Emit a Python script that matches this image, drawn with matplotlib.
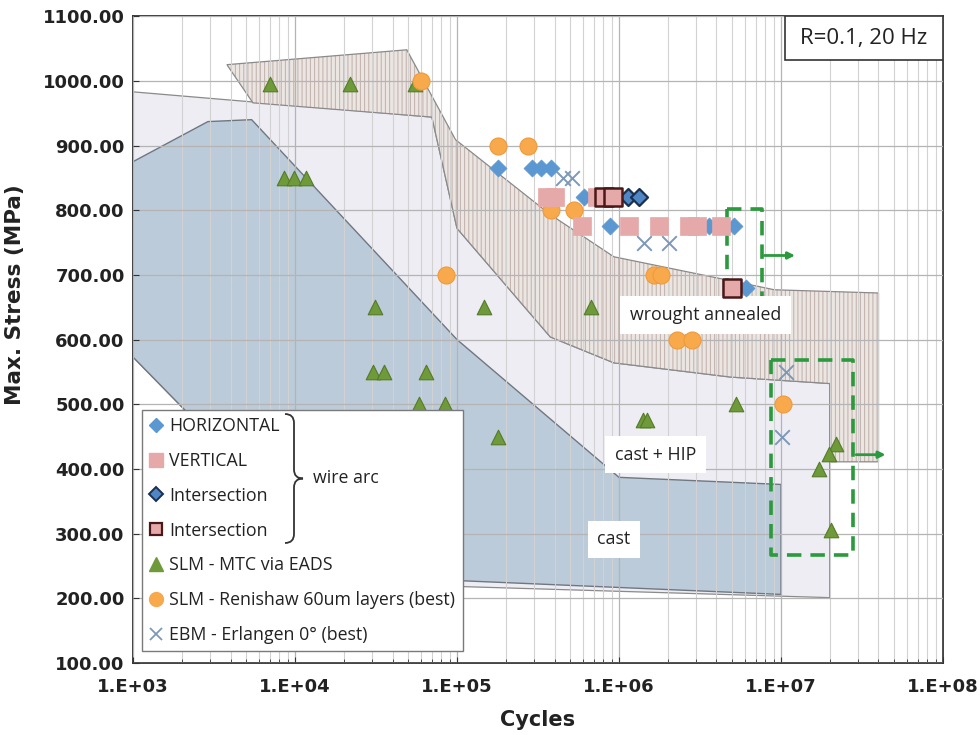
import matplotlib
matplotlib.use("Agg")
import matplotlib.pyplot as plt
from matplotlib.lines import Line2D
from matplotlib.path import Path
from matplotlib.patches import PathPatch, Rectangle

plt.rcParams['hatch.linewidth'] = 0.8

# shaded material bands (cycles, MPa)
cast_x = [1e3, 2.9e3, 5.4e3, 1e5, 1e6, 1e7, 1e7, 1.1e5, 2e4, 2e3, 1e3]
cast_y = [875, 937, 940, 600, 387, 376, 206, 227, 240, 496, 573]

hip_x = [1e3, 7e4, 1e5, 3.77e5, 9.3e5, 4.9e6, 2e7, 2e7, 1.1e5, 2e4, 2e3, 1e3]
hip_y = [983, 944, 772, 604, 564, 542, 532, 201, 218, 235, 496, 573]

wrought_x = [3.8e3, 4.9e4, 9.8e4, 3.78e5, 9.3e5, 4.9e6, 9.1e6, 4e7, 4e7, 2e7, 2e7,
             4.9e6, 9.3e5, 3.77e5, 1e5, 7e4, 5.5e3]
wrought_y = [1025, 1048, 909, 793, 728, 691, 677, 672, 411, 411, 532,
             542, 564, 604, 772, 944, 966]

# wire arc data
horiz_x = [1.8e5, 2.9e5, 3.3e5, 3.8e5, 6.1e5, 8.8e5, 3.6e6, 5.1e6, 6.1e6]
horiz_y = [865, 865, 865, 865, 820, 775, 775, 775, 680]

vert_x = [3.6e5, 4.0e5, 5.9e5, 7.3e5, 1.15e6, 1.77e6, 2.7e6, 3.05e6, 4.25e6]
vert_y = [820, 820, 775, 820, 775, 775, 775, 775, 775]

inter_d_x = [1.13e6, 1.32e6]
inter_d_y = [820, 820]

inter_s_x = [8.1e5, 9.2e5, 5.0e6]
inter_s_y = [820, 820, 680]

# other processes
slm_mtc_x = [7e3, 2.2e4, 5.5e4, 8.6e3, 9.8e3, 1.17e4, 3.1e4, 1.46e5, 6.7e5,
             3.03e4, 3.52e4, 6.4e4, 5.87e4, 8.4e4, 1.78e5, 1.4e6, 1.5e6,
             5.3e6, 2.2e7, 1.97e7, 1.71e7, 2.03e7]
slm_mtc_y = [995, 995, 995, 850, 850, 850, 650, 650, 650,
             550, 550, 550, 500, 500, 450, 475, 475,
             500, 438, 423, 400, 305]

renishaw_x = [6.0e4, 1.8e5, 2.75e5, 3.8e5, 5.3e5, 8.5e4, 1.64e6, 1.81e6, 2.29e6, 2.83e6, 1.03e7]
renishaw_y = [1000, 900, 900, 800, 800, 700, 700, 700, 600, 600, 500]

ebm_x = [4.5e5, 5.1e5, 1.43e6, 2.04e6, 1.07e7, 1.02e7]
ebm_y = [850, 850, 750, 750, 550, 450]

# run-out boxes
box1_x = [4.67e6, 7.6e6]
box1_y = [665, 802]
box2_x = [8.7e6, 2.8e7]
box2_y = [267, 569]

fig = plt.figure(figsize=(9.8, 7.35), dpi=100)
ax = fig.add_axes([0.1357, 0.098, 0.8265, 0.880])

ax.fill(hip_x, hip_y, facecolor='#ededf3', edgecolor='#8a8a8a', lw=0.9, zorder=1)
ax.fill(cast_x, cast_y, facecolor='#bccbd9', edgecolor='#6f7880', lw=1.0, zorder=1.2)
ax.fill(wrought_x, wrought_y, facecolor='#ece6e3', edgecolor='#c4b5b0', hatch='||||',
        lw=0, zorder=1.4)
ax.fill(wrought_x, wrought_y, facecolor='none', edgecolor='#8a8a8a', lw=0.9, zorder=1.5)

green = '#2a9a3c'
for bx, by, ay, ax_end in [(box1_x, box1_y, 730, 1.27e7), (box2_x, box2_y, 422, 4.6e7)]:
    ax.plot([bx[0], bx[1], bx[1], bx[0], bx[0]], [by[1], by[1], by[0], by[0], by[1]],
            ls=(0, (4, 2.5)), color=green, lw=2.6, zorder=4)
    ax.annotate('', xy=(ax_end, ay), xytext=(bx[1], ay),
                arrowprops=dict(arrowstyle='-|>', color=green, lw=2, mutation_scale=10),
                zorder=4)

ax.scatter(slm_mtc_x, slm_mtc_y, marker='^', s=110, color='#6f9a3a', edgecolor='#557a2a',
           lw=0.8, zorder=5)
ax.scatter(renishaw_x, renishaw_y, marker='o', s=150, color='#f8a94c', edgecolor='#f09a38',
           lw=0.8, zorder=5)
ax.scatter(horiz_x, horiz_y, marker='D', s=75, color='#5b97d1', edgecolor='#5b97d1',
           lw=0.5, zorder=5)
ax.scatter(vert_x, vert_y, marker='s', s=170, color='#e6a9a9', edgecolor='#e6a9a9',
           lw=0.5, zorder=5)
ax.scatter(inter_d_x, inter_d_y, marker='D', s=75, color='#4f86c6', edgecolor='#1b2f4f',
           lw=1.6, zorder=6)
ax.scatter(inter_s_x, inter_s_y, marker='s', s=150, color='#e6a9a9', edgecolor='#4a1818',
           lw=1.8, zorder=6)
ax.scatter(ebm_x, ebm_y, marker='x', s=110, color='#7d98b8', lw=1.4, zorder=6)

tfont = dict(family='Open Sans', fontsize=12.8, color='#222222')
box = dict(facecolor='white', edgecolor='none', pad=7)
ax.text(3.43e6, 638, 'wrought annealed', ha='center', va='center', bbox=box, zorder=4, **tfont)
ax.text(1.68e6, 422, 'cast + HIP', ha='center', va='center', bbox=box, zorder=4, **tfont)
ax.text(9.3e5, 291, 'cast', ha='center', va='center', bbox=box, zorder=4, **tfont)

# condition box in the upper right corner
ax.add_patch(Rectangle((0.805, 0.932), 0.195, 0.068, transform=ax.transAxes,
                       facecolor='white', edgecolor='#333333', lw=1.2, zorder=7))
ax.text(0.9025, 0.966, 'R=0.1, 20 Hz', transform=ax.transAxes, ha='center', va='center',
        zorder=8, family='Open Sans', fontsize=16, color='#222222')

ax.set_xscale('log')
ax.set_xlim(1e3, 1e8)
ax.set_ylim(100, 1100)
ax.set_xticks([1e3, 1e4, 1e5, 1e6, 1e7, 1e8])
ax.set_xticklabels(['1.E+03', '1.E+04', '1.E+05', '1.E+06', '1.E+07', '1.E+08'])
ax.set_yticks(range(100, 1101, 100))
ax.set_yticklabels(['%.2f' % v for v in range(100, 1101, 100)])
ax.set_axisbelow(False)
ax.grid(which='major', axis='both', color='#b4b4b4', lw=0.9)
ax.grid(which='minor', axis='x', color='#d2d2d2', lw=0.8)
ax.tick_params(which='both', direction='in', labelsize=13, colors='#333333', labelcolor='#222222')
ax.tick_params(which='major', length=4)
ax.tick_params(which='minor', length=3)
ax.tick_params(axis='x', which='major', pad=11)
ax.tick_params(axis='y', which='major', pad=6)
for lab in ax.get_xticklabels() + ax.get_yticklabels():
    lab.set_fontweight('bold')
for sp in ax.spines.values():
    sp.set_color('#333333')
    sp.set_linewidth(1.3)

ax.set_xlabel('Cycles', fontsize=15, fontweight='bold', color='#222222', labelpad=10)
ax.set_ylabel('Max. Stress (MPa)', fontsize=15.5, fontweight='bold', color='#222222')
ax.yaxis.set_label_coords(-0.133, 0.57)

handles = [
    Line2D([], [], ls='none', marker='D', ms=7, color='#5b97d1'),
    Line2D([], [], ls='none', marker='s', ms=10, color='#e6a9a9'),
    Line2D([], [], ls='none', marker='D', ms=7, markerfacecolor='#4f86c6',
           markeredgecolor='#1b2f4f', mew=1.4),
    Line2D([], [], ls='none', marker='s', ms=9, markerfacecolor='#e6a9a9',
           markeredgecolor='#4a1818', mew=1.6),
    Line2D([], [], ls='none', marker='^', ms=10, color='#6f9a3a'),
    Line2D([], [], ls='none', marker='o', ms=10, color='#f8a94c'),
    Line2D([], [], ls='none', marker='x', ms=9, color='#7d98b8', mew=1.3),
]
labels = ['HORIZONTAL', 'VERTICAL', 'Intersection', 'Intersection', 'SLM - MTC via EADS',
          'SLM - Renishaw 60um layers (best)', 'EBM - Erlangen 0° (best)']
leg = ax.legend(handles, labels, loc='lower left', bbox_to_anchor=(0.011, 0.018),
                borderaxespad=0, frameon=True, fancybox=False, framealpha=1,
                edgecolor='#7a7a7a', handlelength=0.8, handletextpad=0.35,
                labelspacing=0.95, borderpad=0.4,
                prop=dict(family='Open Sans', size=12.8))
leg.get_frame().set_linewidth(1.0)
for t in leg.get_texts():
    t.set_color('#222222')
leg.set_zorder(8)


def px(x, y):
    return (x / 980.0, 1 - y / 735.0)


# curly brace grouping the wire arc entries
bx, y0, y1, w = 294, 414, 543, 9
ym = (y0 + y1) / 2
verts = [px(bx - w, y0), px(bx, y0), px(bx, y0 + w), px(bx, ym - w), px(bx, ym),
         px(bx + w, ym), px(bx, ym), px(bx, ym + w), px(bx, y1 - w), px(bx, y1),
         px(bx - w, y1)]
codes = [Path.MOVETO, Path.CURVE3, Path.CURVE3, Path.LINETO, Path.CURVE3, Path.CURVE3,
         Path.CURVE3, Path.CURVE3, Path.LINETO, Path.CURVE3, Path.CURVE3]
fig.add_artist(PathPatch(Path(verts, codes), transform=fig.transFigure, facecolor='none',
                         edgecolor='#333333', lw=1.3, zorder=9))
fig.text(313 / 980.0, 1 - 478 / 735.0, 'wire arc', ha='left', va='center', zorder=9,
         family='Open Sans', fontsize=12.8, color='#222222')

fig.savefig('out.png', dpi=100)
